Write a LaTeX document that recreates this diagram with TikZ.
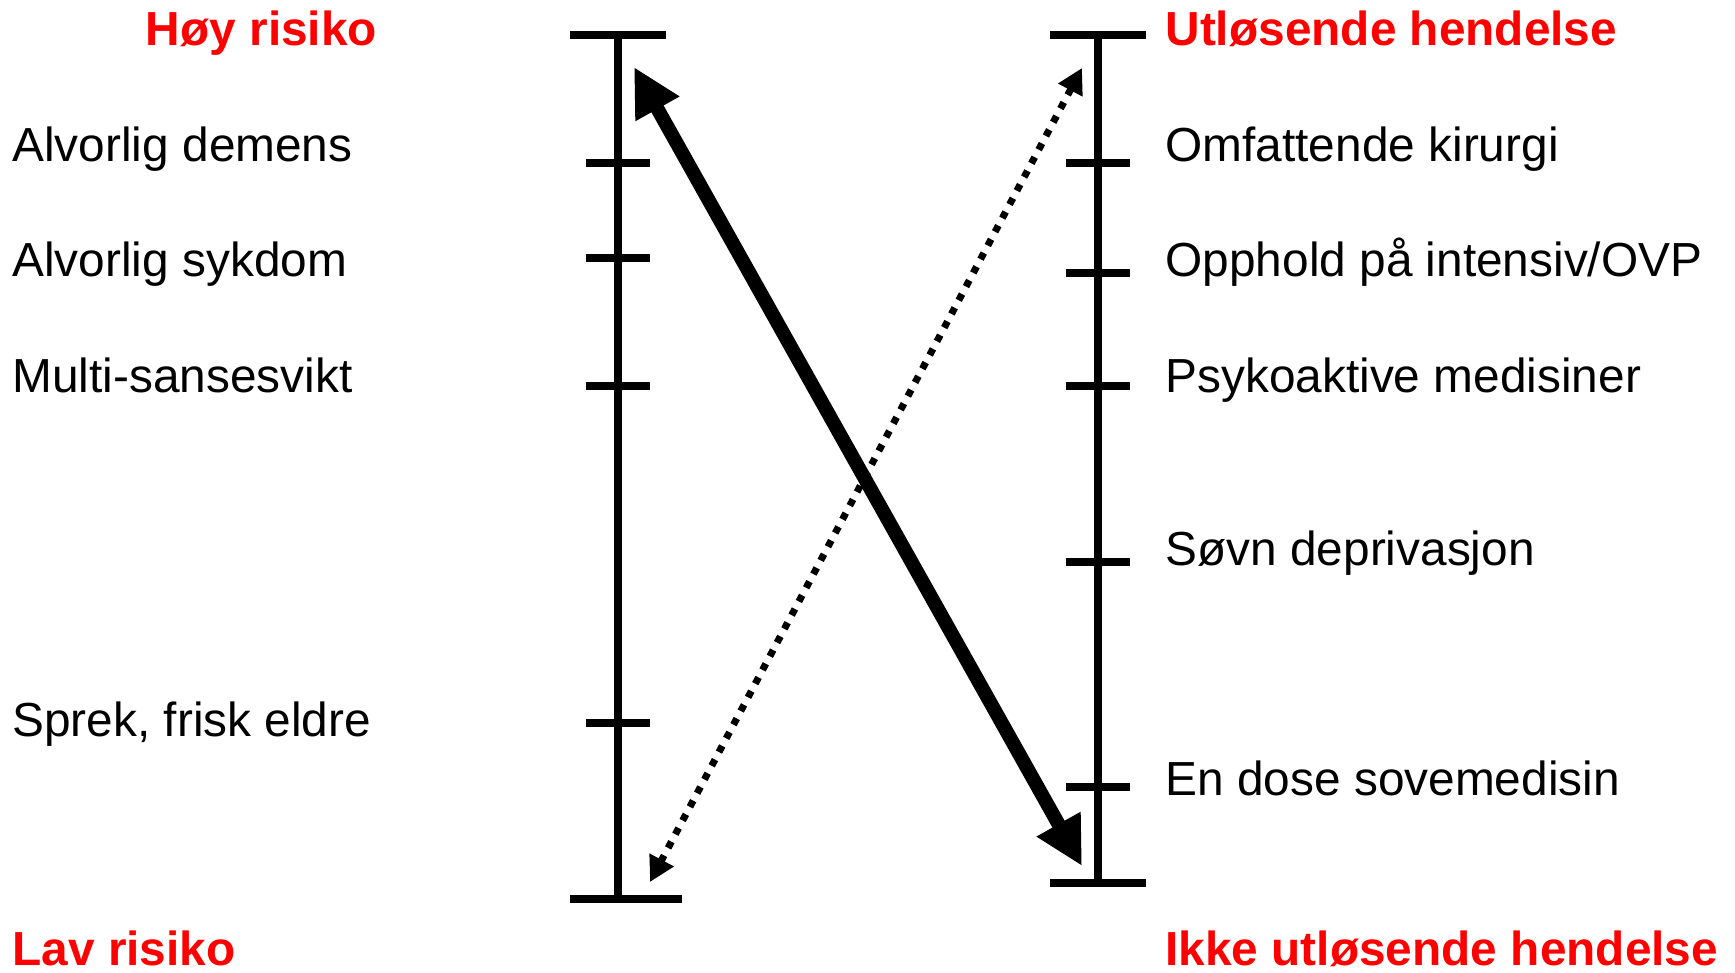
\documentclass[tikz,border=0pt]{standalone}
\usepackage{fontspec}
\setmainfont{Liberation Sans}
\usetikzlibrary{arrows.meta}
\definecolor{riskred}{RGB}{255,0,0}
\begin{document}
\begin{tikzpicture}[x=1pt,y=-1pt,
  lbl/.style={inner sep=0pt,outer sep=0pt,font=\fontsize{47.8}{56}\selectfont,text=black},
  hdr/.style={inner sep=0pt,outer sep=0pt,font=\fontsize{47.8}{56}\selectfont\bfseries,text=riskred},
  axisline/.style={line width=8pt,black},
  tickline/.style={line width=8pt,black},
  bigarrow/.style={line width=14pt,{Triangle[length=48pt,width=47pt]}-{Triangle[length=48pt,width=47pt]}},
  dotarrow/.style={line width=7pt,dash pattern=on 7pt off 8.5pt,{Triangle[length=25pt,width=26pt]}-{Triangle[length=25pt,width=26pt]}}
]
\useasboundingbox (0,0) rectangle (1735,972);
\fill[white] (0,0) rectangle (1735,972);

% left axis
\coordinate (LT) at (618,35);
\coordinate (LB) at (618,899);
\draw[axisline] (LT) -- (LB);
\draw[axisline] (570,35) -- (666,35);
\draw[axisline] (570,899) -- (682,899);
\foreach \y in {163,258,386,723} \draw[tickline] (586,\y) -- (650,\y);

% right axis
\coordinate (RT) at (1098,35);
\coordinate (RB) at (1098,883);
\draw[axisline] (RT) -- (RB);
\draw[axisline] (1050,35) -- (1146,35);
\draw[axisline] (1050,883) -- (1146,883);
\foreach \y in {163,273,386,562,787} \draw[tickline] (1066,\y) -- (1130,\y);

% left labels
\node[hdr,anchor=base east] (hoy) at (377,45) {Høy risiko};
\node[lbl,anchor=base west] (l1) at (12.5,161) {Alvorlig demens};
\node[lbl,anchor=base west] (l2) at (12.5,276) {Alvorlig sykdom};
\node[lbl,anchor=base west] (l3) at (12.5,392) {Multi-sansesvikt};
\node[lbl,anchor=base west] (l4) at (12.5,736) {Sprek, frisk eldre};
\node[hdr,anchor=base west] (lav) at (12.5,965) {Lav risiko};

% right labels
\node[hdr,anchor=base west] (utl) at (1165.5,45) {Utløsende hendelse};
\node[lbl,anchor=base west] (r1) at (1165.5,161) {Omfattende kirurgi};
\node[lbl,anchor=base west] (r2) at (1165.5,276) {Opphold på intensiv/OVP};
\node[lbl,anchor=base west] (r3) at (1165.5,392) {Psykoaktive medisiner};
\node[lbl,anchor=base west] (r4) at (1165.5,565) {Søvn deprivasjon};
\node[lbl,anchor=base west] (r5) at (1165.5,795) {En dose sovemedisin};
\node[hdr,anchor=base west] (ikke) at (1165.5,965) {Ikke utløsende hendelse};

% arrows
\coordinate (A1) at (634,67);
\coordinate (A2) at (1082,866);
\coordinate (D1) at (1082,68);
\coordinate (D2) at (650,882);
\draw[bigarrow] (A1) -- (A2);
\draw[dotarrow] (D1) -- (D2);
\end{tikzpicture}
\end{document}
